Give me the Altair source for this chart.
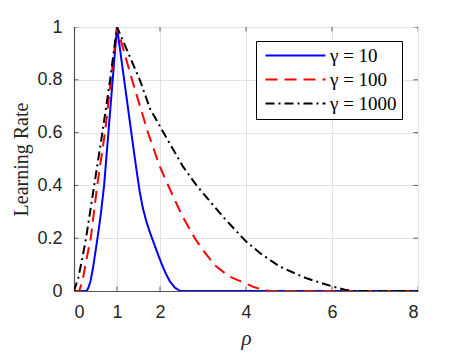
import altair as alt
import pandas as pd

# ---- data ----
series_names = ["γ = 10", "γ = 100", "γ = 1000"]
series_colors = ["#0000ff", "#ff0000", "#000000"]
series_dashes = [[1, 0], [12, 7], [9, 4, 2, 4]]

rho_10 = [0, 0.29, 0.33, 0.38, 0.44, 0.50, 0.56, 0.63, 0.70, 0.80, 0.90, 1.0,
          1.15, 1.30, 1.40, 1.47, 1.53, 1.60, 1.68, 1.77, 1.86, 1.95, 2.04, 2.13, 2.23, 2.35, 2.47, 8.0]
lr_10 = [0, 0, 0.01, 0.035, 0.085, 0.15, 0.215, 0.30, 0.40, 0.60, 0.80, 1.0,
         0.82, 0.64, 0.52, 0.44, 0.375, 0.315, 0.265, 0.22, 0.18, 0.14, 0.102, 0.068, 0.036, 0.012, 0, 0]

rho_100 = [0, 0.12, 0.20, 0.29, 0.39, 0.54, 0.72, 0.86, 1.0,
           1.35, 1.72, 2.0, 2.19, 2.5, 2.81, 3.0, 3.28, 3.6, 4.0, 4.2, 4.4, 4.55, 8.0]
lr_100 = [0, 0, 0.04, 0.12, 0.20, 0.40, 0.60, 0.80, 1.0,
          0.80, 0.60, 0.47, 0.40, 0.29, 0.20, 0.155, 0.097, 0.056, 0.028, 0.014, 0.004, 0, 0]

rho_1000 = [0, 0.10, 0.20, 0.28, 0.47, 0.66, 0.84, 1.0,
            1.53, 1.77, 2.08, 2.54, 2.85, 3.16, 3.5, 3.9, 4.0, 4.33, 4.79, 5.26, 5.41, 6.03, 6.3, 6.5, 8.0]
lr_1000 = [0, 0.05, 0.13, 0.20, 0.40, 0.60, 0.80, 1.0,
           0.80, 0.69, 0.60, 0.47, 0.40, 0.34, 0.275, 0.205, 0.188, 0.143, 0.092, 0.058, 0.048, 0.016, 0.005, 0, 0]

x_ticks = [0, 1, 2, 4, 6, 8]
y_ticks = [0, 0.2, 0.4, 0.6, 0.8, 1.0]

rows = []
for name, xs, ys in zip(series_names, [rho_10, rho_100, rho_1000], [lr_10, lr_100, lr_1000]):
    for i, (a, b) in enumerate(zip(xs, ys)):
        rows.append({"series": name, "rho": a, "lr": b, "order": i})
df = pd.DataFrame(rows)

xt = pd.DataFrame({"t": x_ticks})
yt = pd.DataFrame({"t": y_ticks})

xscale = alt.Scale(domain=[0, 8], nice=False)
yscale = alt.Scale(domain=[0, 1], nice=False)

AX_COL = "#262626"
GRID_COL = "#e3e3e3"

legend = alt.Legend(
    title=None, orient="none", legendX=182, legendY=14,
    symbolType="M-6,0H6", symbolSize=100, symbolStrokeWidth=2, symbolOffset=25,
    labelFont="Liberation Serif", labelFontSize=19, labelColor="#000000",
    labelOffset=25, padding=5, rowPadding=4,
    strokeColor="#000000", fillColor="#ffffff",
)

lines = alt.Chart(df).mark_line(strokeWidth=2, clip=True).encode(
    x=alt.X("rho:Q", scale=xscale,
            axis=alt.Axis(values=x_ticks, format="d", title="ρ", grid=True,
                          gridColor=GRID_COL, ticks=False, labelPadding=12,
                          labelFont="Liberation Sans", labelFontSize=18, labelColor=AX_COL,
                          domainColor="#555555", domainWidth=1.2,
                          titleFont="Liberation Serif", titleFontStyle="italic",
                          titleFontWeight="normal", titleFontSize=21, titleColor=AX_COL,
                          titleBaseline="alphabetic", titleY=53)),
    y=alt.Y("lr:Q", scale=yscale,
            axis=alt.Axis(values=y_ticks, format="~g", title="Learning Rate", grid=True,
                          gridColor=GRID_COL, ticks=False, labelPadding=12,
                          labelFont="Liberation Sans", labelFontSize=18, labelColor=AX_COL,
                          domainColor="#555555", domainWidth=1.2,
                          titleFont="Liberation Serif", titleFontWeight="normal",
                          titleFontSize=20, titleColor=AX_COL,
                          titleBaseline="bottom", titleX=-43)),
    color=alt.Color("series:N", scale=alt.Scale(domain=series_names, range=series_colors), legend=legend),
    strokeDash=alt.StrokeDash("series:N", scale=alt.Scale(domain=series_names, range=series_dashes), legend=legend),
    order="order:Q",
)

tick_style = dict(color=AX_COL, thickness=1, size=9, clip=True)
bottom_ticks = alt.Chart(xt).mark_tick(orient="vertical", **tick_style).encode(
    x=alt.X("t:Q", scale=xscale), y=alt.datum(0, scale=yscale))
top_ticks = alt.Chart(xt).mark_tick(orient="vertical", **tick_style).encode(
    x=alt.X("t:Q", scale=xscale), y=alt.datum(1, scale=yscale))
left_ticks = alt.Chart(yt).mark_tick(orient="horizontal", **tick_style).encode(
    y=alt.Y("t:Q", scale=yscale), x=alt.datum(0, scale=xscale))
right_ticks = alt.Chart(yt).mark_tick(orient="horizontal", **tick_style).encode(
    y=alt.Y("t:Q", scale=yscale), x=alt.datum(8, scale=xscale))

chart = alt.layer(lines, bottom_ticks, top_ticks, left_ticks, right_ticks).properties(
    width=344, height=264,
    autosize=alt.AutoSizeParams(type="none"),
    padding={"left": 66, "top": 19, "right": 37, "bottom": 60},
).configure_view(stroke=AX_COL, strokeWidth=1)

chart.save("out.html", embed_options={"renderer": "svg", "actions": False})
